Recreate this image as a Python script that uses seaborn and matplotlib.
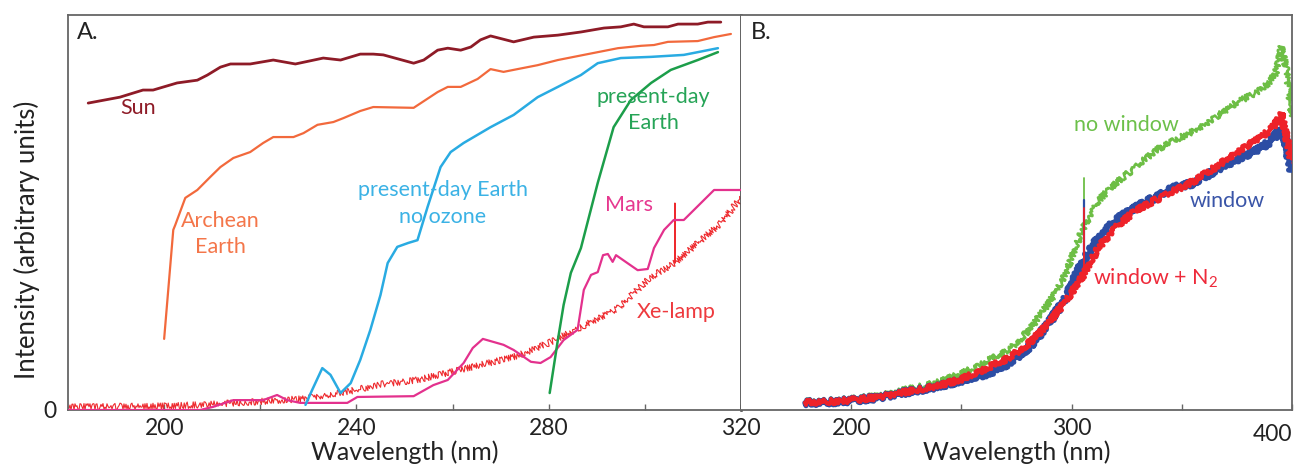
import numpy as np
import pandas as pd
import matplotlib
matplotlib.use("Agg")
import matplotlib.pyplot as plt
import seaborn as sns

# ---- Panel A : UV spectra (arbitrary units) ----
sun_x = [184.2, 190.8, 195.6, 197.7, 202.7, 206.9, 209.0, 211.7, 213.8, 217.9, 222.7,
         227.3, 233.1, 236.7, 240.8, 243.5, 245.6, 251.9, 254.0, 256.9, 259.0, 261.7,
         263.8, 265.8, 267.9, 272.7, 276.9, 281.9, 286.7, 291.5, 295.0, 297.7, 299.8,
         304.8, 306.9, 311.0, 313.1, 315.8]
sun_y = [0.777, 0.792, 0.810, 0.810, 0.828, 0.835, 0.848, 0.868, 0.876, 0.876, 0.886,
         0.876, 0.891, 0.886, 0.901, 0.901, 0.899, 0.878, 0.886, 0.911, 0.916, 0.911,
         0.919, 0.937, 0.947, 0.932, 0.944, 0.949, 0.957, 0.967, 0.970, 0.977, 0.970,
         0.970, 0.977, 0.977, 0.982, 0.982]

archean_x = [200.0, 201.9, 202.3, 204.4, 206.9, 209.6, 211.7, 214.4, 217.9, 220.6, 222.7,
             226.9, 229.0, 231.9, 235.2, 237.3, 240.8, 243.5, 251.9, 256.9, 259.0, 261.7,
             265.2, 267.9, 270.6, 273.5, 277.7, 281.9, 287.3, 294.4, 299.2, 301.9, 304.8,
             311.0, 314.4, 317.9]
archean_y = [0.180, 0.456, 0.468, 0.537, 0.557, 0.590, 0.615, 0.638, 0.653, 0.676, 0.691,
             0.691, 0.701, 0.722, 0.729, 0.739, 0.757, 0.767, 0.765, 0.805, 0.818, 0.818,
             0.838, 0.863, 0.856, 0.863, 0.873, 0.886, 0.899, 0.916, 0.922, 0.924, 0.932,
             0.934, 0.944, 0.952]

noozone_x = [229.4, 230.8, 232.9, 234.6, 236.7, 238.8, 240.8, 242.9, 245.0, 246.5, 248.5,
             250.8, 252.7, 254.8, 257.5, 259.6, 262.3, 267.9, 272.7, 277.7, 281.9, 286.7,
             290.2, 295.0, 301.3, 308.1, 310.2, 315.2]
noozone_y = [0.013, 0.051, 0.106, 0.089, 0.043, 0.068, 0.127, 0.203, 0.291, 0.372, 0.413,
             0.423, 0.430, 0.514, 0.615, 0.653, 0.676, 0.716, 0.747, 0.792, 0.818, 0.848,
             0.878, 0.891, 0.894, 0.899, 0.904, 0.916]

earth_x = [280.2, 281.9, 283.1, 284.6, 286.7, 290.2, 293.5, 297.1, 301.3, 305.4, 311.0, 315.2]
earth_y = [0.043, 0.177, 0.266, 0.347, 0.410, 0.575, 0.716, 0.785, 0.828, 0.861, 0.886, 0.906]

mars_x = [180.0, 207.5, 210.2, 214.4, 220.6, 223.5, 225.6, 228.3, 238.1, 240.2, 251.9,
          256.0, 259.0, 262.3, 264.2, 266.3, 270.6, 272.7, 276.3, 278.3, 280.4, 283.1,
          286.0, 287.3, 288.8, 290.2, 291.3, 292.3, 293.3, 294.0, 298.5, 300.6, 301.9,
          304.0, 306.0, 308.1, 314.4, 320.0]
mars_y = [0.000, 0.000, 0.008, 0.025, 0.025, 0.038, 0.025, 0.018, 0.018, 0.033, 0.035,
          0.063, 0.076, 0.119, 0.157, 0.180, 0.165, 0.152, 0.122, 0.119, 0.134, 0.177,
          0.203, 0.304, 0.342, 0.349, 0.392, 0.395, 0.375, 0.392, 0.354, 0.357, 0.410,
          0.456, 0.481, 0.481, 0.557, 0.557]

xe_x = [180.0, 199.2, 207.5, 217.9, 228.3, 238.8, 245.6, 252.7, 259.6, 266.5, 273.5,
        280.4, 287.3, 294.4, 301.3, 306.2, 311.7, 315.8, 319.6, 320.0]
xe_y = [0.008, 0.010, 0.013, 0.020, 0.028, 0.048, 0.066, 0.076, 0.096, 0.116, 0.137,
        0.172, 0.213, 0.258, 0.337, 0.372, 0.430, 0.473, 0.532, 0.535]
# single-channel spike of the Xe-lamp trace
xe_spike_x = [306.2, 306.25, 306.3]
xe_spike_y = [0.372, 0.524, 0.372]

# ---- Panel B : lamp spectra ----
lamp_x = [179.0, 190.0, 200.0, 210.0, 220.0, 230.0, 240.0, 250.0, 262.7, 271.7, 280.8,
          289.8, 297.5, 304.8, 312.4, 320.1, 329.2, 338.2, 347.3, 356.3,
          365.4, 374.4, 383.5, 389.4, 392.6, 395.2, 397.5, 400.0]
no_window_y = [0.022, 0.024, 0.028, 0.035, 0.046, 0.058, 0.072, 0.092, 0.127, 0.152, 0.203,
               0.271, 0.347, 0.456, 0.532, 0.575, 0.615, 0.658, 0.684, 0.709,
               0.742, 0.777, 0.803, 0.828, 0.853, 0.919, 0.861, 0.742]
window_y = [0.018, 0.020, 0.024, 0.030, 0.040, 0.050, 0.060, 0.075, 0.094, 0.119, 0.160,
            0.220, 0.286, 0.372, 0.438, 0.481, 0.514, 0.539, 0.565, 0.575,
            0.608, 0.633, 0.658, 0.676, 0.695, 0.716, 0.676, 0.600]
window_n2_y = [0.019, 0.021, 0.025, 0.031, 0.041, 0.051, 0.062, 0.078, 0.109, 0.132, 0.170,
               0.220, 0.278, 0.337, 0.413, 0.463, 0.506, 0.532, 0.557, 0.582,
               0.615, 0.651, 0.684, 0.705, 0.725, 0.752, 0.691, 0.625]
# spike near 305.7 nm
spike_x = [305.7, 305.7]
spike_no_window_y = [0.48, 0.587]
spike_window_y = [0.39, 0.532]
spike_window_n2_y = [0.35, 0.511]

FONT = ["Lato", "DejaVu Sans"]
sns.set_theme(style="white")
plt.rcParams["font.family"] = FONT
plt.rcParams["mathtext.fontset"] = "custom"
plt.rcParams["mathtext.rm"] = "Lato"
plt.rcParams["mathtext.it"] = "Lato"

W, H = 1295, 468
fig = plt.figure(figsize=(W / 100, H / 100), dpi=100)
axA = fig.add_axes([68 / W, 1 - 410 / H, 673 / W, 395 / H])
axB = fig.add_axes([741 / W, 1 - 410 / H, 551 / W, 395 / H])


def draw(ax, x, y, color, lw, sketch=None, z=2):
    df = pd.DataFrame({"x": x, "y": y})
    sns.lineplot(data=df, x="x", y="y", ax=ax, color=color, linewidth=lw,
                 estimator=None, sort=False, zorder=z)
    line = ax.lines[-1]
    line.set_solid_joinstyle("round")
    if sketch:
        line.set_sketch_params(*sketch)


# panel A lines
draw(axA, xe_x, xe_y, "#EE2A2E", 0.8, sketch=(3.2, 1.2, 2.0), z=2)
draw(axA, xe_spike_x, xe_spike_y, "#EE2A2E", 0.9, z=2)
draw(axA, mars_x, mars_y, "#E3318D", 1.6, z=3)
draw(axA, sun_x, sun_y, "#8E1B27", 2.0, z=3)
draw(axA, archean_x, archean_y, "#F2693C", 1.6, z=3)
draw(axA, noozone_x, noozone_y, "#29ABE2", 1.8, z=3)
draw(axA, earth_x, earth_y, "#1C9E4A", 1.8, z=3)

# panel B lines
draw(axB, lamp_x, no_window_y, "#6DBE45", 1.8, sketch=(3.0, 1.6, 2.0), z=2)
draw(axB, spike_x, spike_no_window_y, "#6DBE45", 1.3, z=2)
draw(axB, lamp_x, window_y, "#2C4DA4", 3.8, sketch=(3.0, 1.6, 2.0), z=3)
draw(axB, spike_x, spike_window_y, "#2C4DA4", 1.6, z=3)
draw(axB, lamp_x, window_n2_y, "#EE2229", 2.8, sketch=(2.8, 1.6, 2.0), z=4)
draw(axB, spike_x, spike_window_n2_y, "#EE2229", 1.3, z=4)

label_kw = dict(fontsize=15.5, ha="center", va="center")
axA.text(194.6, 0.765, "Sun", color="#8E1B27", **label_kw)
axA.text(211.7, 0.479, "Archean", color="#F4764A", **label_kw)
axA.text(211.7, 0.413, "Earth", color="#F4764A", **label_kw)
axA.text(258.0, 0.557, "present-day Earth", color="#3BB2E5", **label_kw)
axA.text(258.0, 0.489, "no ozone", color="#3BB2E5", **label_kw)
axA.text(301.7, 0.792, "present-day", color="#26A457", **label_kw)
axA.text(301.7, 0.727, "Earth", color="#26A457", **label_kw)
axA.text(296.7, 0.519, "Mars", color="#E6388F", **label_kw)
axA.text(306.5, 0.248, "Xe-lamp", color="#EE3A3E", **label_kw)
axA.text(0.013, 0.955, "A.", transform=axA.transAxes, fontsize=17,
         ha="left", va="center", color="#222222")

axB.text(325.0, 0.722, "no window", color="#6CC04A", **label_kw)
axB.text(370.4, 0.530, "window", color="#3A55A8", **label_kw)
axB.text(309.5, 0.334, "window + N$_2$", color="#EE2A3A", fontsize=15.5,
         ha="left", va="center")
axB.text(0.018, 0.955, "B.", transform=axB.transAxes, fontsize=17,
         ha="left", va="center", color="#222222")

# axes styling
axA.set_xlim(180, 320)
axB.set_xlim(150, 400)
for ax in (axA, axB):
    ax.set_ylim(0, 1)
    for side in ("left", "right", "top", "bottom"):
        ax.spines[side].set_color("#666666")
        ax.spines[side].set_linewidth(1.3)
    ax.tick_params(axis="x", which="both", direction="in", length=4, width=1,
                   color="#666666", bottom=True, labelsize=16.5, pad=6,
                   labelcolor="#222222")
    ax.set_xlabel("Wavelength (nm)", fontsize=18, color="#222222", labelpad=1)
    ax.set_ylabel("")
axA.spines["right"].set_color("#333333")
axA.spines["right"].set_linewidth(1.8)
axB.spines["left"].set_visible(False)

axA.set_xticks([200, 240, 280, 320])
axA.set_xticks([220, 260, 300], minor=True)
axB.set_xticks([200, 300, 400])
axB.set_xticks([250, 350], minor=True)
axB.set_xticklabels(["200", "300", ""])
axB.text(1.0, -0.036, "400", transform=axB.transAxes, fontsize=16.5, color="#222222",
         ha="right", va="top", clip_on=False)

axA.set_yticks([0])
axA.set_yticklabels(["0"])
axA.tick_params(axis="y", length=0, labelsize=16.5, pad=8, labelcolor="#222222")
axB.set_yticks([])
axA.set_ylabel("Intensity (arbitrary units)", fontsize=18.5, color="#222222", labelpad=4)
axA.yaxis.set_label_coords(-0.042, 0.43)

fig.savefig("out.png", dpi=100)
